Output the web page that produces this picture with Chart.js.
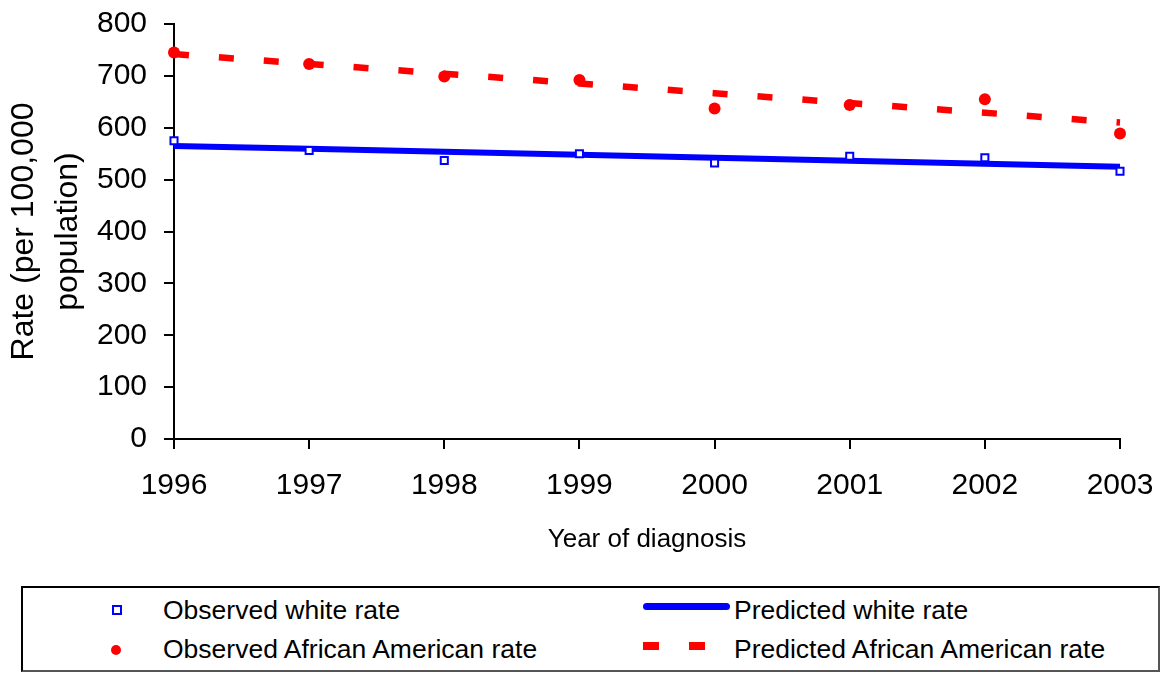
<!DOCTYPE html>
<html>
<head>
<meta charset="utf-8">
<title>Rate by year of diagnosis</title>
<script src="https://cdn.jsdelivr.net/npm/chart.js@4/dist/chart.umd.min.js"></script>
<style>
  body { margin: 0; background: #fff; font-family: "Liberation Sans", Arial, sans-serif; }
  #wrap { position: relative; width: 1162px; height: 673px; overflow: hidden; }
  #chart { position: absolute; left: 0; top: 0; }
  .legend-box { position: absolute; left: 21px; top: 586px; width: 1139px; height: 86px; box-sizing: border-box;
    border: 2px solid #000; border-right-color: #555; border-bottom-color: #555; }
  .lg { position: absolute; }
  .lg-text { position: absolute; font-size: 26.5px; line-height: 30px; color: #000; white-space: nowrap; }
</style>
</head>
<body>
<div id="wrap">
  <canvas id="chart" width="1162" height="575"></canvas>
  <div id="legend"></div>
</div>
<script>
// data
const years = ["1996", "1997", "1998", "1999", "2000", "2001", "2002", "2003"];
const observedWhite = [575, 556, 537, 550, 532, 545, 542, 516];
const observedAA = [745, 723, 699, 692, 637, 644, 655, 589];
const predictedWhite = [565, 559.3, 553.6, 547.9, 542.1, 536.4, 530.7, 525];
const predictedAA = [742, 723.1, 704.3, 685.4, 666.6, 647.7, 628.9, 610];
const yTicks = [0, 100, 200, 300, 400, 500, 600, 700, 800];

const seriesNames = [
  "Observed white rate",
  "Predicted white rate",
  "Observed African American rate",
  "Predicted African American rate",
];

const BLUE = "#0000FF";
const RED = "#FF0000";
const FONT = "'Liberation Sans', Arial, sans-serif";

const axisGrid = {
  drawOnChartArea: false,
  drawTicks: true,
  tickLength: 10,
  color: "#000",
  lineWidth: 2,
};

const ctx = document.getElementById("chart").getContext("2d");
const myChart = new Chart(ctx, {
  type: "line",
  data: {
    labels: years,
    datasets: [
      {
        label: seriesNames[0],
        data: observedWhite,
        showLine: false,
        pointStyle: "rect",
        pointRadius: 5,
        pointBorderWidth: 2,
        pointBorderColor: BLUE,
        pointBackgroundColor: "#fff",
        order: 0,
        clip: false,
      },
      {
        label: seriesNames[2],
        data: observedAA,
        showLine: false,
        pointStyle: "circle",
        pointRadius: 6,
        pointBorderWidth: 0,
        pointBackgroundColor: RED,
        pointBorderColor: RED,
        order: 0,
        clip: false,
      },
      {
        label: seriesNames[1],
        data: predictedWhite,
        borderColor: BLUE,
        borderWidth: 6,
        pointRadius: 0,
        tension: 0,
        order: 1,
        clip: false,
      },
      {
        label: seriesNames[3],
        data: predictedAA,
        borderColor: RED,
        borderWidth: 6.5,
        borderDash: [15, 30],
        borderCapStyle: "butt",
        pointRadius: 0,
        tension: 0,
        order: 1,
        clip: false,
      },
    ],
  },
  options: {
    responsive: false,
    animation: false,
    devicePixelRatio: 1,
    layout: { padding: { top: 24, right: 42, bottom: 0, left: 0 } },
    plugins: { legend: { display: false }, tooltip: { enabled: false } },
    scales: {
      x: {
        type: "category",
        offset: false,
        grid: axisGrid,
        border: { display: true, color: "#000", width: 2 },
        ticks: { color: "#000", font: { family: FONT, size: 30 }, padding: 19, maxRotation: 0, autoSkip: false },
        title: {
          display: true,
          text: "Year of diagnosis",
          color: "#000",
          font: { family: FONT, size: 26, lineHeight: 1.2 },
          padding: { top: 0, bottom: 20 },
        },
        afterFit: (scale) => {
          scale.height = 136;
          scale.paddingLeft = 0;
          scale.paddingRight = 0;
        },
      },
      y: {
        min: 0,
        max: 800,
        grid: axisGrid,
        border: { display: true, color: "#000", width: 2 },
        afterBuildTicks: (scale) => {
          scale.ticks = yTicks.map((v) => ({ value: v }));
        },
        ticks: { color: "#000", font: { family: FONT, size: 30 }, padding: 17 },
        title: {
          display: true,
          text: ["Rate (per 100,000", "population)"],
          color: "#000",
          font: { family: FONT, size: 32, lineHeight: 44 / 32 },
          padding: { top: 2, bottom: 0 },
        },
        afterFit: (scale) => {
          scale.width = 174;
          scale.paddingTop = 0;
          scale.paddingBottom = 0;
        },
      },
    },
  },
});
console.log("chartArea=", myChart.chartArea);

// legend below the chart, two columns like the original
function buildLegend() {
  const el = document.getElementById("legend");
  el.innerHTML = `<div class="legend-box"></div>
  <div class="lg" style="left:112px;top:605px;width:10px;height:10px;box-sizing:border-box;border:2px solid ${BLUE};background:#fff"></div>
  <div class="lg" style="left:111px;top:645px;width:10px;height:10px;border-radius:50%;background:${RED}"></div>
  <div class="lg" style="left:643px;top:603px;width:87px;height:7px;border-radius:4px;background:${BLUE}"></div>
  <div class="lg" style="left:643px;top:642px;width:16px;height:8px;background:${RED}"></div>
  <div class="lg" style="left:689px;top:642px;width:16px;height:8px;background:${RED}"></div>
  <div class="lg-text" style="left:163px;top:595px">${seriesNames[0]}</div>
  <div class="lg-text" style="left:163px;top:634px">${seriesNames[2]}</div>
  <div class="lg-text" style="left:734px;top:595px">${seriesNames[1]}</div>
  <div class="lg-text" style="left:734px;top:634px">${seriesNames[3]}</div>`;
}
buildLegend();
</script>
</body>
</html>
